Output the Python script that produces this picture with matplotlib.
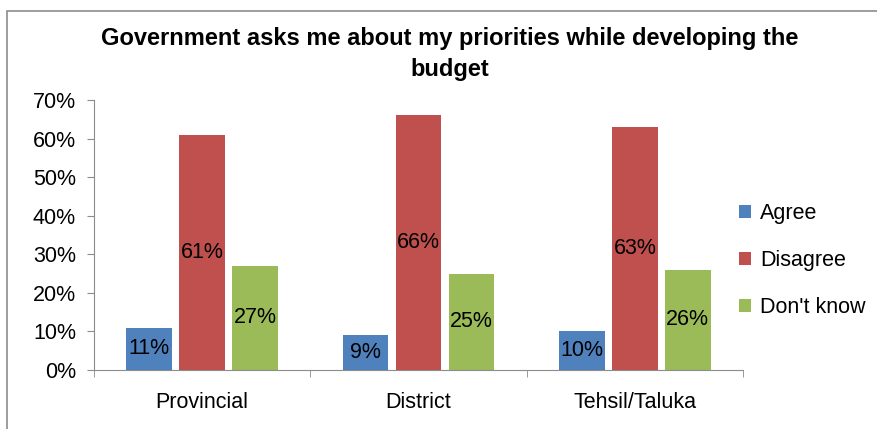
import numpy as np
import matplotlib
matplotlib.use("Agg")
import matplotlib.pyplot as plt
from matplotlib.patches import Rectangle

plt.rcParams['font.family'] = ['Liberation Sans', 'DejaVu Sans']

# survey responses per level of government
levels = ['Provincial', 'District', 'Tehsil/Taluka']
answers = ['Agree', 'Disagree', "Don't know"]
agree = [11, 9, 10]
disagree = [61, 66, 63]
dont_know = [27, 25, 26]
colors = ['#4F81BD', '#C0504D', '#9BBB59']

fs = 15.5

fig = plt.figure(figsize=(8.78, 4.29), dpi=100)
ax = fig.add_axes([94 / 878, 1 - 370 / 429, (743 - 94) / 878, (370 - 100) / 429])

# grey frame around the chart area
fig.patches.append(Rectangle((7 / 878, -0.1), 1.2, (429 - 11) / 429 + 0.1,
                             transform=fig.transFigure, fill=False,
                             edgecolor='#8c8c8c', linewidth=1.2))

x = np.arange(len(levels))
width = 0.21
offset = 0.245
for i, (vals, name) in enumerate(zip([agree, disagree, dont_know], answers)):
    bars = ax.bar(x + (i - 1) * offset, vals, width, color=colors[i], label=name)
    for b, v in zip(bars, vals):
        ax.text(b.get_x() + b.get_width() / 2, v / 2, f'{v}%',
                ha='center', va='center', fontsize=fs)

ax.set_xlim(-0.5, 2.5)
ax.set_ylim(0, 70)
ax.set_yticks(range(0, 71, 10))
ax.set_yticklabels([f'{t}%' for t in range(0, 71, 10)], fontsize=fs)
ax.set_xticks(x)
ax.set_xticklabels(levels, fontsize=fs)
ax.set_xticks([-0.5, 0.5, 1.5, 2.5], minor=True)
ax.tick_params(axis='x', which='major', length=0, pad=16)
ax.tick_params(axis='x', which='minor', length=5, color='#8c8c8c')
ax.tick_params(axis='y', length=5, color='#8c8c8c', pad=8)

for s in ['top', 'right']:
    ax.spines[s].set_visible(False)
for s in ['left', 'bottom']:
    ax.spines[s].set_color('#8c8c8c')

ax.legend(loc='center left', bbox_to_anchor=(0.994, 0.405), frameon=False,
          fontsize=fs, handlelength=0.56, handleheight=0.56,
          handletextpad=0.4, labelspacing=1.22, borderaxespad=0.0,
          borderpad=0.0)

fig.text(450 / 878, 1 - 54 / 429,
         'Government asks me about my priorities while developing the\nbudget',
         ha='center', va='center', fontsize=17, fontweight='bold',
         linespacing=1.45)

fig.savefig('out.png', dpi=100)
